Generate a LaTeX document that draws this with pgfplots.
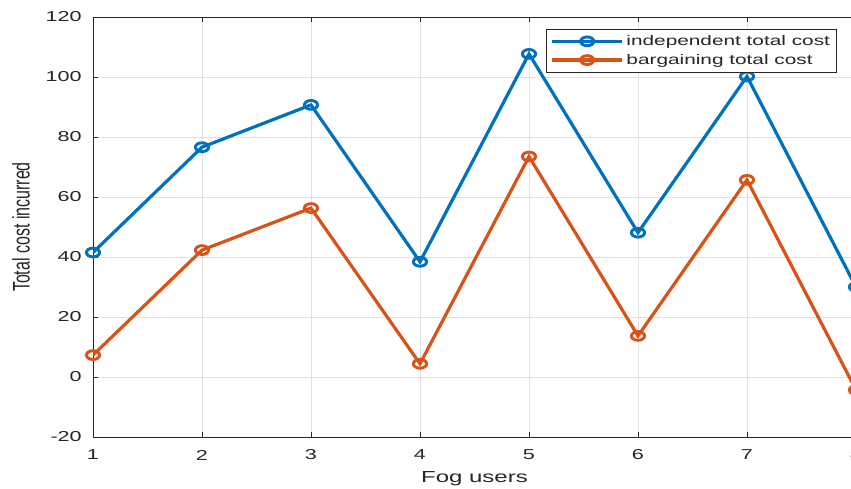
\documentclass[border=0pt]{standalone}
\usepackage{graphicx}
\usepackage{fontspec}
\setmainfont{Liberation Sans}[FakeStretch=1.5]
\newfontfamily\plainfont{Liberation Sans}
\usepackage{pgfplots}
\pgfplotsset{compat=1.18}
\definecolor{mblue}{rgb}{0,0.447,0.741}
\definecolor{morange}{rgb}{0.85,0.325,0.098}
\definecolor{axgray}{rgb}{0.15,0.15,0.15}
\begin{document}
\begin{tikzpicture}
\useasboundingbox (-69.75pt,-39pt) rectangle (568.5pt,327.75pt);
\begin{axis}[
  scale only axis,
  width=572.25pt, height=315pt,
  xmin=1, xmax=8, ymin=-20, ymax=120,
  xtick={1,2,3,4,5,6,7,8},
  ytick={-20,0,20,40,60,80,100,120},
  /pgf/number format/assume math mode=true,
  tick label style={font=\fontsize{10.8}{12}\selectfont, text=axgray},
  xticklabel style={anchor=center, inner sep=0pt, yshift=-13.5pt},
  yticklabel style={anchor=east, inner sep=0pt, xshift=-8.25pt},
  axis line style={axgray, line width=0.6pt},
  tick style={axgray, line width=0.6pt},
  major tick length=3.5pt,
  tick align=inside,
  grid=major,
  grid style={black!12, line width=0.5pt},
  every axis x label/.style={at={(axis description cs:0.5,0)}, anchor=center, yshift=-31.5pt, font=\fontsize{12}{14}\selectfont, text=axgray},
  every axis y label/.style={at={(axis description cs:0,0.5)}, anchor=center, xshift=-54pt, text=axgray},
  xlabel={Fog users},
  ylabel={\scalebox{1.5}[1]{\rotatebox{90}{\plainfont\fontsize{12}{14}\selectfont Total cost incurred}}},
  legend style={at={(1,1)}, anchor=north east, xshift=-14.25pt, yshift=-9pt,
    draw=axgray, line width=0.5pt, fill=white,
    font=\fontsize{10.4}{12}\selectfont, text=axgray,
    inner xsep=3pt, inner ysep=2.5pt, row sep=1pt},
  legend cell align=left,
  legend image code/.code={\draw[mark repeat=2, mark phase=2] plot coordinates {(0pt,0pt) (26.25pt,0pt) (52.5pt,0pt)};},
]
\addplot[color=mblue, line width=2.4pt, mark=o, mark size=3.3pt, mark options={xscale=1.5, solid, line width=2.2pt}] coordinates {(1,41.5) (2,76.6) (3,90.7) (4,38.4) (5,107.7) (6,48.1) (7,100.2) (8,30)};
\addlegendentry{independent total cost}
\addplot[color=morange, line width=2.4pt, mark=o, mark size=3.3pt, mark options={xscale=1.5, solid, line width=2.2pt}] coordinates {(1,7.3) (2,42.3) (3,56.3) (4,4.4) (5,73.5) (6,13.7) (7,65.7) (8,-4.3)};
\addlegendentry{bargaining total cost}
\end{axis}
\end{tikzpicture}
\end{document}
